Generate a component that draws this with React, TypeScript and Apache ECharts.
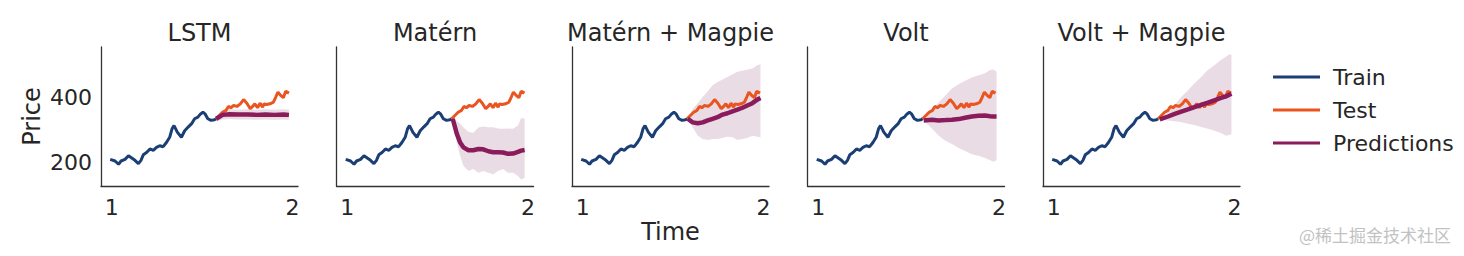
import React, { useEffect, useRef } from 'react';
import * as echarts from 'echarts';

const FONT = 'DejaVu Sans';
const TXT = '#262626';
const AXIS = '#333333';
const TRAIN_C = '#1b3f74';
const TEST_C = '#e9541f';
const PRED_C = '#8a1c5c';
const BAND_C = 'rgba(128,45,95,0.17)';

const titles = ['LSTM', 'Matérn', 'Matérn + Magpie', 'Volt', 'Volt + Magpie'];
const xTicks = [1, 2];
const yTicks = [200, 400];
const legendNames = ['Train', 'Test', 'Predictions'];

const trainT = [0.991, 1.018, 1.037, 1.051, 1.073, 1.092, 1.11, 1.128, 1.147, 1.161, 1.174, 1.192, 1.211, 1.229, 1.247, 1.265, 1.284, 1.302, 1.32, 1.333, 1.344, 1.363, 1.385, 1.403, 1.425, 1.443, 1.458, 1.476, 1.491, 1.504, 1.516, 1.531, 1.549, 1.568, 1.577];
const trainV = [210, 205, 195, 205, 210, 221, 214, 207, 197, 207, 224, 231, 242, 238, 247, 252, 249, 262, 278, 304, 314, 293, 278, 298, 311, 321, 335, 340, 350, 355, 350, 335, 330, 332, 335];

const testT = [1.577, 1.595, 1.613, 1.632, 1.645, 1.659, 1.674, 1.692, 1.711, 1.729, 1.747, 1.766, 1.779, 1.791, 1.806, 1.82, 1.834, 1.842, 1.857, 1.875, 1.894, 1.907, 1.919, 1.934, 1.949, 1.962, 1.98];
const testV = [335, 345, 355, 361, 373, 369, 376, 373, 381, 394, 383, 366, 373, 381, 369, 383, 371, 381, 379, 381, 386, 402, 417, 407, 400, 420, 414];

const lstmT = [1.577, 1.595, 1.613, 1.65, 1.7, 1.75, 1.8, 1.85, 1.9, 1.95, 1.98];
const lstmPred = [335, 341, 347, 349, 348, 348, 347, 348, 347, 348, 347];
const lstmHigh = [342, 354, 362, 364, 363, 364, 363, 364, 363, 364, 363];
const lstmLow = [328, 330, 333, 334, 333, 333, 332, 333, 332, 333, 332];

const maternT = [1.583, 1.605, 1.624, 1.642, 1.67, 1.697, 1.725, 1.752, 1.78, 1.807, 1.834, 1.862, 1.889, 1.917, 1.944, 1.962, 1.981];
const maternPred = [335, 290, 262, 247, 238, 238, 242, 241, 235, 232, 232, 231, 227, 228, 233, 237, 239];
const maternHigh = [335, 328, 320, 309, 294, 292, 308, 311, 309, 309, 305, 304, 305, 304, 314, 337, 335];
const maternLow = [335, 262, 221, 190, 174, 180, 169, 174, 169, 164, 174, 180, 169, 169, 159, 148, 153];

const maternMagT = [1.58, 1.608, 1.636, 1.663, 1.691, 1.718, 1.745, 1.773, 1.8, 1.828, 1.855, 1.883, 1.91, 1.938, 1.965, 1.983];
const maternMagPred = [335, 324, 321, 324, 330, 335, 340, 348, 352, 358, 363, 369, 376, 383, 394, 399];
const maternMagHigh = [335, 366, 383, 402, 420, 438, 448, 456, 464, 472, 480, 483, 487, 490, 500, 503];
const maternMagLow = [335, 309, 283, 273, 270, 273, 273, 276, 280, 278, 270, 273, 276, 283, 280, 278];

const voltT = [1.583, 1.629, 1.666, 1.703, 1.739, 1.776, 1.812, 1.849, 1.886, 1.922, 1.95, 1.968, 1.986];
const voltPred = [330, 332, 330, 331, 332, 334, 338, 342, 344, 345, 343, 342, 342];
const voltHigh = [330, 361, 386, 407, 428, 441, 452, 462, 469, 475, 485, 487, 480];
const voltLow = [330, 304, 283, 267, 257, 245, 236, 226, 221, 214, 207, 203, 207];

const voltMagT = [1.586, 1.632, 1.669, 1.705, 1.742, 1.778, 1.815, 1.852, 1.888, 1.925, 1.952, 1.971, 1.983];
const voltMagPred = [333, 342, 350, 357, 364, 371, 378, 385, 392, 399, 404, 409, 412];
const voltMagHigh = [333, 355, 378, 402, 423, 444, 464, 485, 500, 516, 526, 534, 532];
const voltMagLow = [333, 330, 327, 324, 320, 316, 310, 304, 298, 291, 283, 285, 288];

const models = [
  { t: lstmT, pred: lstmPred, high: lstmHigh, low: lstmLow },
  { t: maternT, pred: maternPred, high: maternHigh, low: maternLow },
  { t: maternMagT, pred: maternMagPred, high: maternMagHigh, low: maternMagLow },
  { t: voltT, pred: voltPred, high: voltHigh, low: voltLow },
  { t: voltMagT, pred: voltMagPred, high: voltMagHigh, low: voltMagLow },
];

const pts = (t: number[], v: number[]) => t.map((x, i) => [x, v[i]]);

export default function App() {
  const ref = useRef<HTMLDivElement>(null);
  useEffect(() => {
    const chart = echarts.init(ref.current!, null, { renderer: 'svg' });
    const GL = 101, STEP = 235.5, GW = 197, GT = 47, GH = 139;
    const grid: any[] = [], xAxis: any[] = [], yAxis: any[] = [], series: any[] = [], graphic: any[] = [];
    models.forEach((m, i) => {
      const left = GL + i * STEP;
      grid.push({ left, top: GT, width: GW, height: GH });
      xAxis.push({
        gridIndex: i, type: 'value', min: 0.94, max: 2.03,
        axisLine: { show: true, onZero: false, lineStyle: { color: AXIS, width: 1.3 } },
        axisTick: { show: false }, splitLine: { show: false },
        axisLabel: { customValues: xTicks, margin: 10, fontSize: 22, color: TXT, fontFamily: FONT },
        name: i === 2 ? 'Time' : '', nameLocation: 'middle', nameGap: 34, nameMoveOverlap: false,
        nameTextStyle: { fontSize: 24, color: TXT, fontFamily: FONT },
      });
      yAxis.push({
        gridIndex: i, type: 'value', min: 128, max: 556,
        axisLine: { show: true, onZero: false, lineStyle: { color: AXIS, width: 1.3 } },
        axisTick: { show: false }, splitLine: { show: false },
        axisLabel: { show: i === 0, customValues: yTicks, margin: 9, fontSize: 22, color: TXT, fontFamily: FONT },
        name: i === 0 ? 'Price' : '', nameLocation: 'middle', nameGap: 57, nameMoveOverlap: false,
        nameTextStyle: { fontSize: 24, color: TXT, fontFamily: FONT },
      });
      series.push({
        type: 'custom', xAxisIndex: i, yAxisIndex: i, silent: true, z: 1,
        data: m.t.map((x, k) => [x, m.low[k], m.high[k]]),
        encode: { x: 0, y: [1, 2] },
        renderItem: (params: any, api: any) => {
          if (params.dataIndex !== 0) return null;
          const up = m.t.map((x, k) => api.coord([x, m.high[k]]));
          const lo = m.t.map((x, k) => api.coord([x, m.low[k]])).reverse();
          return { type: 'polygon', shape: { points: up.concat(lo) }, style: { fill: BAND_C } };
        },
      });
      series.push({
        name: 'Train', type: 'line', xAxisIndex: i, yAxisIndex: i, data: pts(trainT, trainV),
        symbol: 'none', color: TRAIN_C, lineStyle: { width: 3, color: TRAIN_C }, z: 3,
      });
      series.push({
        name: 'Test', type: 'line', xAxisIndex: i, yAxisIndex: i, data: pts(testT, testV),
        symbol: 'none', color: TEST_C, lineStyle: { width: 3, color: TEST_C }, z: 3,
      });
      series.push({
        name: 'Predictions', type: 'line', xAxisIndex: i, yAxisIndex: i, data: pts(m.t, m.pred),
        symbol: 'none', color: PRED_C, lineStyle: { width: 4.5, color: PRED_C }, z: 4,
      });
      graphic.push({
        type: 'text', x: left + GW / 2, y: 33,
        style: { text: titles[i], fill: TXT, fontSize: 24, fontFamily: FONT, align: 'center', verticalAlign: 'middle' },
      });
    });
    graphic.push({
      type: 'text', x: 1451, y: 234,
      style: { text: '@稀土掘金技术社区', fill: '#c2c2c2', fontSize: 17, fontFamily: 'Noto Sans CJK SC', align: 'right', verticalAlign: 'middle' },
    });
    chart.setOption({
      animation: false,
      backgroundColor: '#ffffff',
      grid, xAxis, yAxis, series, graphic,
      legend: {
        data: legendNames, orient: 'vertical', left: 1268, top: 61, icon: 'rect',
        itemWidth: 47, itemHeight: 3, itemGap: 11, selectedMode: false,
        textStyle: { fontSize: 22, color: TXT, fontFamily: FONT, padding: [0, 0, 0, 8] },
      },
    });
    return () => chart.dispose();
  }, []);
  return <div ref={ref} style={{ position: 'absolute', left: 0, top: 0, width: 1464, height: 256 }} />;
}
